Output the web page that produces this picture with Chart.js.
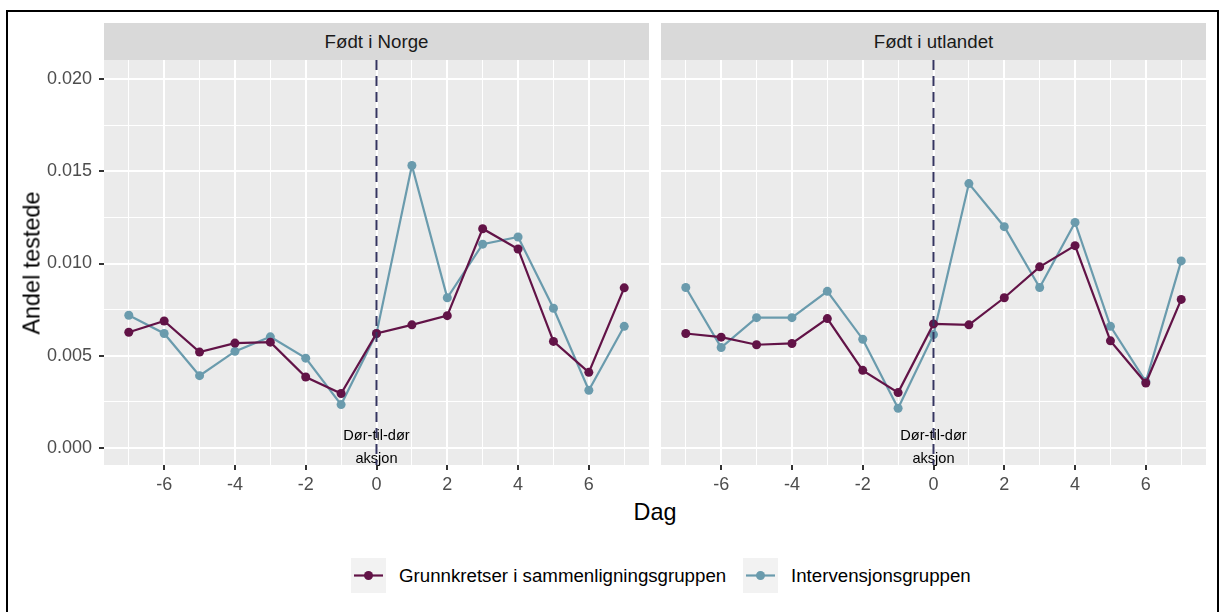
<!DOCTYPE html>
<html>
<head>
<meta charset="utf-8">
<script src="https://cdn.jsdelivr.net/npm/chart.js@4/dist/chart.umd.min.js"></script>
<style>
  body { margin: 0; background: #fff; font-family: "Liberation Sans", Arial, sans-serif; }
  #wrap { position: relative; width: 1220px; height: 612px; overflow: hidden; background: #fff; }
  #frame { position: absolute; left: 6px; top: 10px; width: 1213px; height: 640px; box-sizing: border-box; border: 2px solid #000; }
  canvas { position: absolute; }
  .strip { position: absolute; top: 23px; height: 37px; width: 545px; background: #D9D9D9; color: #1A1A1A;
           font-size: 18.7px; line-height: 37px; text-align: center; }
  .title { position: absolute; color: #000; font-size: 23.4px; white-space: nowrap; }
  .leg { position: absolute; top: 558px; height: 35px; }
  .legtxt { position: absolute; top: 558px; line-height: 35px; font-size: 18.7px; color: #000; white-space: nowrap; }
</style>
</head>
<body>
<div id="wrap">
  <div id="frame"></div>
  <div class="strip" style="left:104px">Født i Norge</div>
  <div class="strip" style="left:661px">Født i utlandet</div>
  <canvas id="norge" width="649" height="435" style="left:0;top:60px"></canvas>
  <canvas id="utland" width="545" height="435" style="left:661px;top:60px"></canvas>
  <div class="title" style="left:655px;top:512px;transform:translate(-50%,-50%)">Dag</div>
  <div class="title" style="left:32px;top:263px;transform:translate(-50%,-50%) rotate(-90deg)">Andel testede</div>
  <svg class="leg" style="left:351px" width="35" height="35">
    <rect width="35" height="35" fill="#F2F2F2"/>
    <line x1="3" y1="17.5" x2="32" y2="17.5" stroke="#621347" stroke-width="2.2"/>
    <circle cx="17.5" cy="17.5" r="4.5" fill="#621347"/>
  </svg>
  <div class="legtxt" style="left:399px">Grunnkretser i sammenligningsgruppen</div>
  <svg class="leg" style="left:743px" width="35" height="35">
    <rect width="35" height="35" fill="#F2F2F2"/>
    <line x1="3" y1="17.5" x2="32" y2="17.5" stroke="#6A9BAD" stroke-width="2.2"/>
    <circle cx="17.5" cy="17.5" r="4.5" fill="#6A9BAD"/>
  </svg>
  <div class="legtxt" style="left:791px">Intervensjonsgruppen</div>
</div>
<script>
// days relative to the door-to-door action
const days = [-7, -6, -5, -4, -3, -2, -1, 0, 1, 2, 3, 4, 5, 6, 7];

// Født i Norge
const norgeSammen = [0.00627, 0.00688, 0.00519, 0.00568, 0.00573, 0.00384, 0.00294, 0.00620, 0.00667, 0.00717, 0.01189, 0.01079, 0.00577, 0.00409, 0.00868];
const norgeInterv = [0.00719, 0.00620, 0.00391, 0.00523, 0.00602, 0.00486, 0.00234, 0.00620, 0.01532, 0.00814, 0.01105, 0.01144, 0.00757, 0.00312, 0.00659];

// Født i utlandet
const utlandSammen = [0.00620, 0.00600, 0.00559, 0.00566, 0.00701, 0.00420, 0.00299, 0.00672, 0.00667, 0.00814, 0.00982, 0.01097, 0.00580, 0.00351, 0.00805];
const utlandInterv = [0.00870, 0.00544, 0.00706, 0.00706, 0.00849, 0.00589, 0.00214, 0.00614, 0.01434, 0.01200, 0.00870, 0.01223, 0.00659, 0.00359, 0.01014];

// tick positions (minor ones get thin grid lines, no label)
const xTicks = [-7, -6, -5, -4, -3, -2, -1, 0, 1, 2, 3, 4, 5, 6, 7];
const yTicks = [0, 0.0025, 0.005, 0.0075, 0.01, 0.0125, 0.015, 0.0175, 0.02];

const purple = '#621347';
const teal = '#6A9BAD';

Chart.defaults.font.family = '"Liberation Sans", Arial, sans-serif';

const isMajorX = v => Math.round(v) % 2 === 0;
const isMajorY = v => Math.round(v / 0.0025) % 2 === 0;

// grey panel background
const panelBg = {
  id: 'panelBg',
  beforeDraw(chart) {
    const a = chart.chartArea, c = chart.ctx;
    c.save();
    c.fillStyle = '#EBEBEB';
    c.fillRect(a.left, a.top, a.right - a.left, a.bottom - a.top);
    c.restore();
  }
};

// dashed line at day 0 with label
const action = {
  id: 'action',
  afterDatasetsDraw(chart) {
    const a = chart.chartArea, c = chart.ctx;
    const x = chart.scales.x.getPixelForValue(0);
    const y0 = chart.scales.y.getPixelForValue(0);
    c.save();
    c.fillStyle = '#000';
    c.font = '14.6px "Liberation Sans", Arial, sans-serif';
    c.textAlign = 'center';
    c.textBaseline = 'middle';
    c.fillText('Dør-til-dør', x, y0 - 11.3);
    c.fillText('aksjon', x, y0 + 11.3);
    c.strokeStyle = '#353560';
    c.lineWidth = 2;
    c.setLineDash([10, 6]);
    c.beginPath();
    c.moveTo(x, a.top);
    c.lineTo(x, a.bottom);
    c.stroke();
    c.restore();
  }
};

function makePanel(id, sammen, interv, showY) {
  const toPts = vals => days.map((d, i) => ({ x: d, y: vals[i] }));
  const line = (label, vals, col) => ({
    label: label,
    data: toPts(vals),
    borderColor: col,
    backgroundColor: col,
    borderWidth: 2.2,
    pointRadius: 4.5,
    pointBorderWidth: 0,
    pointBackgroundColor: col,
    tension: 0
  });
  return new Chart(document.getElementById(id).getContext('2d'), {
    type: 'line',
    data: {
      datasets: [
        line('Grunnkretser i sammenligningsgruppen', sammen, purple),
        line('Intervensjonsgruppen', interv, teal)
      ]
    },
    options: {
      responsive: false,
      animation: false,
      devicePixelRatio: 1,
      layout: { padding: 0, autoPadding: false },
      plugins: { legend: { display: false }, tooltip: { enabled: false } },
      scales: {
        x: {
          type: 'linear',
          min: -7.7,
          max: 7.7,
          afterBuildTicks: s => { s.ticks = xTicks.map(v => ({ value: v })); },
          afterFit: s => { s.height = 30; s.paddingLeft = 0; s.paddingRight = 0; },
          border: { display: false },
          grid: {
            color: '#FFFFFF',
            lineWidth: c => isMajorX(c.tick.value) ? 2 : 1,
            drawTicks: true,
            tickLength: 5,
            tickWidth: 2,
            tickColor: c => isMajorX(c.tick.value) ? '#333333' : 'rgba(0,0,0,0)'
          },
          ticks: {
            autoSkip: false,
            maxRotation: 0,
            padding: 4,
            color: '#4D4D4D',
            font: { size: 18 },
            callback: v => isMajorX(v) ? String(v) : ''
          }
        },
        y: {
          min: -0.00094,
          max: 0.02105,
          afterBuildTicks: s => { s.ticks = yTicks.map(v => ({ value: v })); },
          afterFit: s => { s.width = showY ? 104 : 0; s.paddingTop = 0; s.paddingBottom = 0; },
          border: { display: false },
          grid: {
            color: '#FFFFFF',
            lineWidth: c => isMajorY(c.tick.value) ? 2 : 1,
            drawTicks: showY,
            tickLength: 5,
            tickWidth: 2,
            tickColor: c => isMajorY(c.tick.value) ? '#333333' : 'rgba(0,0,0,0)'
          },
          ticks: {
            display: showY,
            autoSkip: false,
            padding: 7,
            color: '#4D4D4D',
            font: { size: 18 },
            callback: v => isMajorY(v) ? v.toFixed(3) : ''
          }
        }
      }
    },
    plugins: [panelBg, action]
  });
}

makePanel('norge', norgeSammen, norgeInterv, true);
makePanel('utland', utlandSammen, utlandInterv, false);
</script>
</body>
</html>
